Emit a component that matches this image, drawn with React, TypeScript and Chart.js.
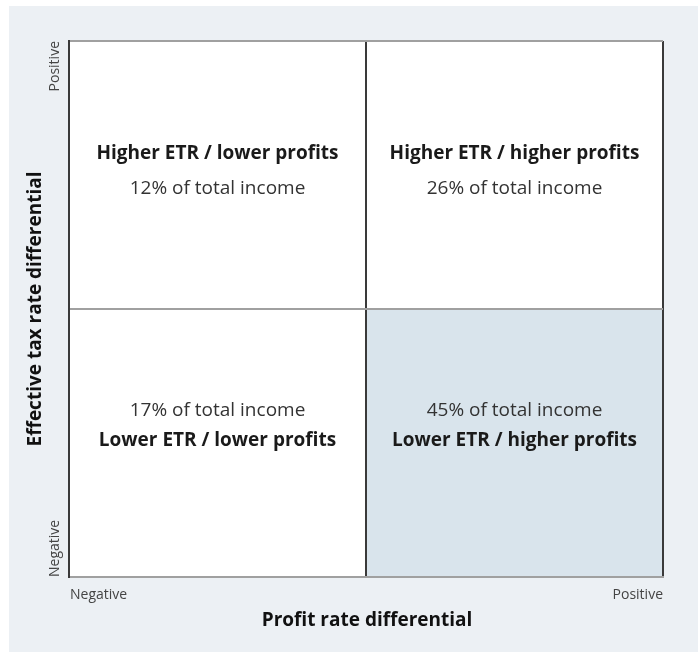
import React, { useEffect, useRef } from "react";
import { Chart, registerables } from "chart.js";

Chart.register(...registerables);

// ---- data ----
const xTickLabels = ["Negative", "Positive"];
const yTickLabels = ["Negative", "Positive"];
const xAxisTitle = "Profit rate differential";
const yAxisTitle = "Effective tax rate differential";
const quadrantNames = [
  "Higher ETR / lower profits",
  "Higher ETR / higher profits",
  "Lower ETR / lower profits",
  "Lower ETR / higher profits",
];
const incomeShares = [12, 26, 17, 45];
// quadrant anchors in data space (x: profit rate, y: ETR)
const quadrantX = [-0.5, 0.5, -0.5, 0.5];
const nameY = [0.58, 0.58, -0.49, -0.49];
const shareY = [0.45, 0.45, -0.38, -0.38];
// highlighted quadrant: [xMin, xMax, yMin, yMax]
const highlight = [0, 1, -1, 0];

const FONT = "'Open Sans', 'DejaVu Sans', sans-serif";

export default function App() {
  const ref = useRef<HTMLCanvasElement>(null);

  useEffect(() => {
    if (!ref.current) return;
    const overlay = {
      id: "quadrants",
      beforeDraw(chart: any) {
        const { ctx, scales, chartArea } = chart;
        const x = scales.x, y = scales.y;
        ctx.save();
        ctx.fillStyle = "#ffffff";
        ctx.fillRect(chartArea.left, chartArea.top, chartArea.right - chartArea.left, chartArea.bottom - chartArea.top);
        const x0 = x.getPixelForValue(highlight[0]);
        const x1 = x.getPixelForValue(highlight[1]);
        const y0 = y.getPixelForValue(highlight[3]);
        const y1 = y.getPixelForValue(highlight[2]);
        ctx.fillStyle = "#d9e4ec";
        ctx.fillRect(x0, y0, x1 - x0, y1 - y0);
        ctx.restore();
      },
      afterDraw(chart: any) {
        const { ctx, scales, chartArea } = chart;
        const x = scales.x, y = scales.y;
        ctx.save();
        ctx.textBaseline = "middle";
        // quadrant texts
        for (let i = 0; i < quadrantNames.length; i++) {
          const px = x.getPixelForValue(quadrantX[i]);
          ctx.textAlign = "center";
          ctx.fillStyle = "#1a1a1a";
          ctx.font = `bold 19px ${FONT}`;
          ctx.fillText(quadrantNames[i], px, y.getPixelForValue(nameY[i]));
          ctx.fillStyle = "#333";
          ctx.font = `19px ${FONT}`;
          ctx.fillText(`${incomeShares[i]}% of total income`, px, y.getPixelForValue(shareY[i]));
        }
        // x tick labels
        ctx.font = `14px ${FONT}`;
        ctx.fillStyle = "#444";
        ctx.textAlign = "left";
        ctx.fillText(xTickLabels[0], chartArea.left + 1, chartArea.bottom + 18);
        ctx.textAlign = "right";
        ctx.fillText(xTickLabels[1], chartArea.right, chartArea.bottom + 18);
        // y tick labels (rotated)
        ctx.save();
        ctx.translate(chartArea.left - 14, chartArea.bottom);
        ctx.rotate(-Math.PI / 2);
        ctx.textAlign = "left";
        ctx.fillText(yTickLabels[0], 0, 0);
        ctx.restore();
        ctx.save();
        ctx.translate(chartArea.left - 14, chartArea.top);
        ctx.rotate(-Math.PI / 2);
        ctx.textAlign = "right";
        ctx.fillText(yTickLabels[1], 0, 0);
        ctx.restore();
        // axis titles
        ctx.font = `bold 19px ${FONT}`;
        ctx.fillStyle = "#111";
        ctx.textAlign = "center";
        ctx.fillText(xAxisTitle, (chartArea.left + chartArea.right) / 2 + 1, chartArea.bottom + 44);
        ctx.save();
        ctx.translate(chartArea.left - 33, (chartArea.top + chartArea.bottom) / 2);
        ctx.rotate(-Math.PI / 2);
        ctx.fillText(yAxisTitle, 0, 0);
        ctx.restore();
        ctx.restore();
      },
    };

    const chart = new Chart(ref.current, {
      type: "scatter",
      data: { datasets: [{ data: [] }] },
      options: {
        animation: false,
        responsive: false,
        devicePixelRatio: 1,
        layout: { padding: { top: 35, right: 35, left: 0, bottom: 0 } },
        plugins: { legend: { display: false }, tooltip: { enabled: false } },
        scales: {
          x: {
            type: "linear",
            min: -1,
            max: 1,
            ticks: { stepSize: 1, display: false },
            grid: { color: "#3a3a3a", lineWidth: 2, drawTicks: false },
            border: { color: "#a0a0a0", width: 2 },
            afterFit: (s: any) => { s.height = 75; },
          },
          y: {
            type: "linear",
            min: -1,
            max: 1,
            ticks: { stepSize: 1, display: false },
            grid: { color: "#a0a0a0", lineWidth: 2, drawTicks: false },
            border: { color: "#3a3a3a", width: 2 },
            afterFit: (s: any) => { s.width = 60; },
          },
        },
      },
      plugins: [overlay],
    });
    return () => chart.destroy();
  }, []);

  return (
    <div
      style={{
        position: "absolute",
        left: 9,
        top: 6,
        width: 689,
        height: 646,
        background: "#ecf0f4",
      }}
    >
      <canvas ref={ref} width={689} height={646} style={{ display: "block" }} />
    </div>
  );
}
